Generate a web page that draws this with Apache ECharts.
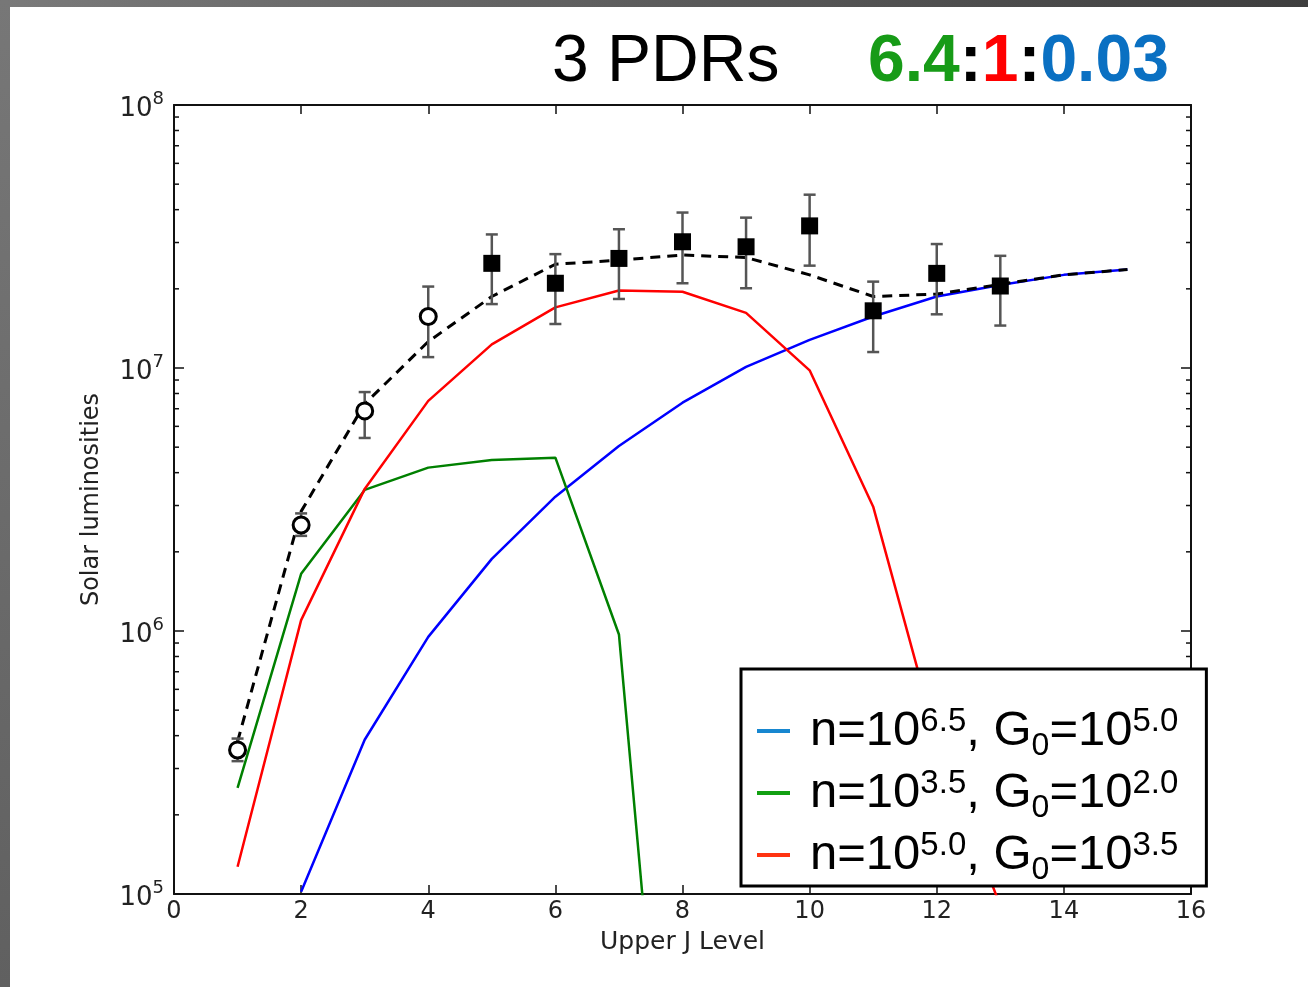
<!DOCTYPE html>
<html>
<head>
<meta charset="utf-8">
<script src="https://cdn.jsdelivr.net/npm/echarts@6/dist/echarts.min.js"></script>
<style>
  html, body { margin: 0; padding: 0; background: #fff; }
  #main { width: 1308px; height: 987px; }
</style>
</head>
<body>
<div id="main"></div>
<script>
// upper J levels
var jLevels = [1, 2, 3, 4, 5, 6, 7, 8, 9, 10, 11, 12, 13, 14, 15];
// model lines (solar luminosities)
var blueModel  = [null, 1.02e5, 3.86e5, 9.5e5, 1.88e6, 3.24e6, 5.05e6, 7.38e6, 1.01e7, 1.28e7, 1.57e7, 1.87e7, 2.07e7, 2.26e7, 2.37e7];
var greenModel = [2.53e5, 1.65e6, 3.44e6, 4.18e6, 4.47e6, 4.56e6, 9.7e5, 2.0e3, null, null, null, null, null, null, null];
var redModel   = [1.27e5, 1.10e6, 3.47e6, 7.5e6, 1.23e7, 1.70e7, 1.97e7, 1.95e7, 1.62e7, 9.8e6, 2.97e6, 3.87e5, 9.0e4, null, null];
var totalModel = [3.8e5, 2.85e6, 7.3e6, 1.26e7, 1.87e7, 2.48e7, 2.57e7, 2.69e7, 2.63e7, 2.26e7, 1.87e7, 1.91e7, 2.08e7, 2.26e7, 2.37e7];
// observations
var obsJ    = [1, 2, 3, 4, 5, 6, 7, 8, 9, 10, 11, 12, 13];
var obsVal  = [3.53e5, 2.53e6, 6.87e6, 1.57e7, 2.50e7, 2.10e7, 2.61e7, 3.02e7, 2.89e7, 3.47e7, 1.65e7, 2.29e7, 2.05e7];
var obsLow  = [3.2e5, 2.3e6, 5.42e6, 1.10e7, 1.75e7, 1.47e7, 1.83e7, 2.10e7, 2.01e7, 2.45e7, 1.15e7, 1.60e7, 1.45e7];
var obsHigh = [3.9e5, 2.8e6, 8.1e6, 2.04e7, 3.22e7, 2.71e7, 3.37e7, 3.90e7, 3.73e7, 4.56e7, 2.13e7, 2.96e7, 2.67e7];
var openCount = 4; // first 4 points are open circles
// axis
var xTicks = [0, 2, 4, 6, 8, 10, 12, 14, 16];
var yDecades = [5, 6, 7, 8];

var myChart = echarts.init(document.getElementById('main'));

function pairs(xs, ys) {
    var out = [];
    for (var i = 0; i < xs.length; i++) out.push([xs[i], ys[i]]);
    return out;
}

// minor ticks 2..9 x 10^n
var minorTicks = [];
for (var d = 0; d < yDecades.length - 1; d++) {
    for (var k = 2; k <= 9; k++) minorTicks.push([0, k * Math.pow(10, yDecades[d])]);
}

var openPts = [], filledPts = [], errData = [];
for (var i = 0; i < obsJ.length; i++) {
    if (i < openCount) openPts.push([obsJ[i], obsVal[i]]);
    else filledPts.push([obsJ[i], obsVal[i]]);
    errData.push([obsJ[i], obsLow[i], obsHigh[i]]);
}

var legendNames = {
    'blue': '{n|n=10}{sup|6.5}{t|, G}{sub|0}{t|=10}{sup|5.0}',
    'green': '{n|n=10}{sup|3.5}{t|, G}{sub|0}{t|=10}{sup|2.0}',
    'red': '{n|n=10}{sup|5.0}{t|, G}{sub|0}{t|=10}{sup|3.5}'
};

var tickFont = 'DejaVu Sans';
var yLabel = {
    fontFamily: tickFont, fontSize: 26, color: '#222', margin: 10,
    formatter: function (v) {
        return '{b|10}{s|' + Math.round(Math.log10(v)) + '}';
    },
    rich: {
        b: { fontFamily: tickFont, fontSize: 26, color: '#222', padding: [8, 0, 0, 0] },
        s: { fontFamily: tickFont, fontSize: 18, color: '#222', padding: [0, 0, 12, 0] }
    }
};

myChart.setOption({
    backgroundColor: '#fff',
    animation: false,
    graphic: [
        { type: 'rect', shape: { x: 0, y: 0, width: 1308, height: 7 }, silent: true,
          style: { fill: new echarts.graphic.LinearGradient(0, 0, 1, 0, [{ offset: 0, color: '#7a7a7a' }, { offset: 1, color: '#3e3e3e' }]) } },
        { type: 'rect', shape: { x: 0, y: 0, width: 10, height: 987 }, silent: true,
          style: { fill: new echarts.graphic.LinearGradient(0, 0, 0, 1, [{ offset: 0, color: '#777' }, { offset: 1, color: '#606060' }]) } }
    ],
    title: [
        { text: '3 PDRs', left: 547, top: 25,
          textStyle: { fontFamily: 'Liberation Sans', fontSize: 66, fontWeight: 'normal', color: '#000' } },
        { text: '{g|6.4}{k|:}{r|1}{k|:}{b|0.03}', left: 863, top: 25,
          textStyle: {
              fontFamily: 'Liberation Sans', fontSize: 66, fontWeight: 'bold',
              rich: {
                  g: { fontFamily: 'Liberation Sans', fontSize: 66, fontWeight: 'bold', color: '#179b17' },
                  k: { fontFamily: 'Liberation Sans', fontSize: 66, fontWeight: 'bold', color: '#000' },
                  r: { fontFamily: 'Liberation Sans', fontSize: 66, fontWeight: 'bold', color: '#ff0000' },
                  b: { fontFamily: 'Liberation Sans', fontSize: 66, fontWeight: 'bold', color: '#0a70c2' }
              }
          } }
    ],
    legend: {
        orient: 'vertical', left: 741, top: 669,
        backgroundColor: '#fff', borderColor: '#000', borderWidth: 3, borderRadius: 0,
        padding: [31, 28, 0, 16], itemGap: 0,
        icon: 'rect', itemWidth: 33, itemHeight: 4,
        selectedMode: false,
        formatter: function (name) { return legendNames[name]; },
        textStyle: {
            fontFamily: 'Liberation Sans', fontSize: 49, color: '#000',
            rich: {
                n: { fontFamily: 'Liberation Sans', fontSize: 49, color: '#000', lineHeight: 58, padding: [0, 0, 0, 15] },
                t: { fontFamily: 'Liberation Sans', fontSize: 49, color: '#000', lineHeight: 58 },
                sup: { fontFamily: 'Liberation Sans', fontSize: 33, color: '#000', lineHeight: 30, padding: [0, 0, 18, 0] },
                sub: { fontFamily: 'Liberation Sans', fontSize: 32, color: '#000', lineHeight: 26, padding: [30, 0, 0, 0] }
            }
        },
        data: [
            { name: 'blue', itemStyle: { color: '#1787d0' } },
            { name: 'green', itemStyle: { color: '#12a012' } },
            { name: 'red', itemStyle: { color: '#ff3311' } }
        ]
    },
    grid: { left: 174, right: 117, top: 105, bottom: 93 },
    xAxis: [
        {
            type: 'value', min: 0, max: 16, interval: 2, position: 'bottom',
            name: 'Upper J Level', nameLocation: 'middle', nameGap: 36,
            nameTextStyle: { fontFamily: tickFont, fontSize: 25, color: '#222' },
            axisLine: { show: true, onZero: false, lineStyle: { color: '#111', width: 2 } },
            axisTick: { show: true, inside: true, length: 9, lineStyle: { color: '#111', width: 1.5 } },
            axisLabel: { fontFamily: tickFont, fontSize: 24, color: '#222', margin: 6,
                         formatter: function (v) { return xTicks.indexOf(v) >= 0 ? String(v) : ''; } },
            splitLine: { show: false }
        },
        {
            type: 'value', min: 0, max: 16, interval: 2, position: 'top',
            axisLine: { show: true, onZero: false, lineStyle: { color: '#111', width: 2 } },
            axisTick: { show: true, inside: true, length: 9, lineStyle: { color: '#111', width: 1.5 } },
            axisLabel: { show: false },
            splitLine: { show: false }
        }
    ],
    yAxis: [
        {
            type: 'log', logBase: 10, min: 1e5, max: 1e8, position: 'left',
            name: 'Solar luminosities', nameLocation: 'middle', nameGap: 70,
            nameTextStyle: { fontFamily: tickFont, fontSize: 24, color: '#222' },
            axisLine: { show: true, onZero: false, lineStyle: { color: '#111', width: 2 } },
            axisTick: { show: true, inside: true, length: 10, lineStyle: { color: '#111', width: 1.5 } },
            axisLabel: yLabel,
            splitLine: { show: false }
        },
        {
            type: 'log', logBase: 10, min: 1e5, max: 1e8, position: 'right',
            axisLine: { show: true, onZero: false, lineStyle: { color: '#111', width: 2 } },
            axisTick: { show: true, inside: true, length: 10, lineStyle: { color: '#111', width: 1.5 } },
            axisLabel: { show: false },
            splitLine: { show: false }
        }
    ],
    series: [
        {
            // minor log ticks on left and right frame
            type: 'custom', silent: true, z: 1, clip: false,
            data: minorTicks,
            renderItem: function (params, api) {
                var v = api.value(1);
                var pl = api.coord([0, v]);
                var pr = api.coord([16, v]);
                var st = { stroke: '#111', lineWidth: 1.5 };
                return {
                    type: 'group',
                    children: [
                        { type: 'line', shape: { x1: pl[0], y1: pl[1], x2: pl[0] + 5, y2: pl[1] }, style: st },
                        { type: 'line', shape: { x1: pr[0] - 5, y1: pr[1], x2: pr[0], y2: pr[1] }, style: st }
                    ]
                };
            }
        },
        { name: 'blue', type: 'line', data: pairs(jLevels, blueModel), showSymbol: false, symbol: 'none', z: 2,
          lineStyle: { color: '#0000ff', width: 2.5 }, itemStyle: { color: '#0000ff' } },
        { name: 'green', type: 'line', data: pairs(jLevels, greenModel), showSymbol: false, symbol: 'none', z: 2,
          lineStyle: { color: '#008000', width: 2.5 }, itemStyle: { color: '#008000' } },
        { name: 'red', type: 'line', data: pairs(jLevels, redModel), showSymbol: false, symbol: 'none', z: 2,
          lineStyle: { color: '#ff0000', width: 2.5 }, itemStyle: { color: '#ff0000' } },
        { name: 'total', type: 'line', data: pairs(jLevels, totalModel), showSymbol: false, symbol: 'none', z: 3,
          lineStyle: { color: '#000', width: 3, type: [10, 7] } },
        {
            name: 'errors', type: 'custom', z: 4, silent: true,
            data: errData,
            renderItem: function (params, api) {
                var lo = api.coord([api.value(0), api.value(1)]);
                var hi = api.coord([api.value(0), api.value(2)]);
                var st = { stroke: '#555', lineWidth: 2.5 };
                var cap = 6;
                return {
                    type: 'group',
                    children: [
                        { type: 'line', shape: { x1: lo[0], y1: lo[1], x2: hi[0], y2: hi[1] }, style: st },
                        { type: 'line', shape: { x1: lo[0] - cap, y1: lo[1], x2: lo[0] + cap, y2: lo[1] }, style: st },
                        { type: 'line', shape: { x1: hi[0] - cap, y1: hi[1], x2: hi[0] + cap, y2: hi[1] }, style: st }
                    ]
                };
            }
        },
        { name: 'open', type: 'scatter', data: openPts, symbol: 'circle', symbolSize: 16, z: 5,
          itemStyle: { color: '#fff', borderColor: '#000', borderWidth: 3, opacity: 1 } },
        { name: 'filled', type: 'scatter', data: filledPts, symbol: 'rect', symbolSize: 17, z: 5,
          itemStyle: { color: '#000', opacity: 1 } }
    ]
});
</script>
</body>
</html>
